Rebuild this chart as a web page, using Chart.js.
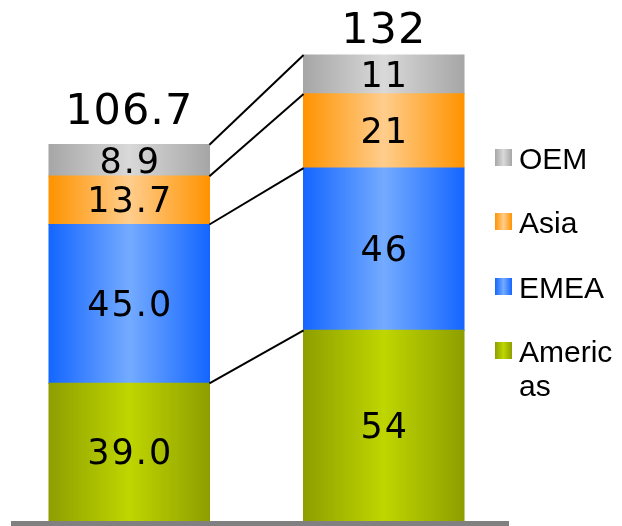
<!DOCTYPE html>
<html>
<head>
<meta charset="utf-8">
<script src="https://cdn.jsdelivr.net/npm/chart.js@4.4.1/dist/chart.umd.min.js"></script>
<style>
  html, body { margin: 0; padding: 0; background: #fff; }
  #wrap { width: 622px; height: 526px; }
</style>
</head>
<body>
<div id="wrap"><canvas id="regionChart" width="622" height="526"></canvas></div>
<script>
// revenue by region, two periods, stacked bottom to top
var periods = ['Prior', 'Current'];
var regions = ['Americas', 'EMEA', 'Asia', 'OEM'];
var americas = [39.0, 54];
var emea = [45.0, 46];
var asia = [13.7, 21];
var oem = [8.9, 11];
var totals = [106.7, 132];
var decimals = [1, 0];

var series = [americas, emea, asia, oem];

// edge / centre colour of each band, same order as series
var shades = [
  ['#8e9e00', '#bfd600'],
  ['#1466ff', '#74abff'],
  ['#ff9300', '#ffcd8c'],
  ['#a6a6a6', '#d9d9d9']
];

var barShare = 0.63;
var totalGap = [21, 12];

function sideGradient(ctx, left, right, pair) {
  var g = ctx.createLinearGradient(left, 0, right, 0);
  g.addColorStop(0, pair[0]);
  g.addColorStop(0.5, pair[1]);
  g.addColorStop(1, pair[0]);
  return g;
}

function barEdges(chart, index) {
  var x = chart.scales.x;
  var half = (x.width / periods.length) * barShare / 2;
  var mid = x.getPixelForValue(index);
  return [mid - half, mid + half];
}

function bandFill(s) {
  return function(context) {
    var chart = context.chart;
    if (!chart.chartArea) return shades[s][0];
    var e = barEdges(chart, context.dataIndex);
    return sideGradient(chart.ctx, e[0], e[1], shades[s]);
  };
}

// break a label by characters when it is wider than the space left
function wrapChars(ctx, text, maxW) {
  var lines = [], cur = '';
  for (var i = 0; i < text.length; i++) {
    if (cur && ctx.measureText(cur + text[i]).width > maxW) {
      lines.push(cur);
      cur = '';
    }
    cur += text[i];
  }
  lines.push(cur);
  return lines;
}

var extrasPlugin = {
  id: 'extras',
  afterDatasetsDraw: function(chart) {
    var ctx = chart.ctx, y = chart.scales.y;
    var a = barEdges(chart, 0), b = barEdges(chart, 1);
    var s0 = 0, s1 = 0, i, j;
    ctx.save();

    // lines joining the band edges of the two bars
    ctx.strokeStyle = '#000';
    ctx.lineWidth = 2;
    for (i = 0; i < series.length; i++) {
      s0 += series[i][0];
      s1 += series[i][1];
      ctx.beginPath();
      ctx.moveTo(a[1], y.getPixelForValue(s0));
      ctx.lineTo(b[0], y.getPixelForValue(s1));
      ctx.stroke();
    }

    // values inside the bands
    ctx.fillStyle = '#000';
    ctx.textAlign = 'center';
    ctx.textBaseline = 'middle';
    ctx.font = '35px "DejaVu Sans"';
    ctx.letterSpacing = '2px';
    for (i = 0; i < series.length; i++) {
      var meta = chart.getDatasetMeta(i);
      for (j = 0; j < meta.data.length; j++) {
        var bar = meta.data[j];
        ctx.fillText(series[i][j].toFixed(decimals[j]), bar.x + 1, (bar.y + bar.base) / 2 + 3);
      }
    }

    // totals above the bars
    ctx.font = '43px "DejaVu Sans"';
    ctx.letterSpacing = '1px';
    ctx.textBaseline = 'alphabetic';
    var topMeta = chart.getDatasetMeta(series.length - 1);
    for (j = 0; j < totals.length; j++) {
      var tb = topMeta.data[j];
      ctx.fillText(totals[j].toFixed(decimals[j]), tb.x, tb.y - totalGap[j]);
    }
    ctx.letterSpacing = '0px';

    // grey base line
    var zero = y.getPixelForValue(0);
    ctx.fillStyle = '#808080';
    ctx.fillRect(11, zero, 498, 5);

    // legend, top entry is the top band
    ctx.font = '30px "Liberation Sans"';
    ctx.textAlign = 'left';
    var top = 149, pitch = 64.3, box = 17, lx = 495, tx = 519;
    for (i = 0; i < regions.length; i++) {
      var s = regions.length - 1 - i;
      var by = Math.round(top + i * pitch);
      ctx.fillStyle = sideGradient(ctx, lx, lx + box, shades[s]);
      ctx.fillRect(lx, by, box, box);
      ctx.fillStyle = '#000';
      var lines = wrapChars(ctx, regions[s], chart.width - tx);
      for (var k = 0; k < lines.length; k++) {
        ctx.fillText(lines[k], tx, by + box / 2 + 11 + k * 34);
      }
    }
    ctx.restore();
  }
};

var datasets = [];
for (var d = 0; d < series.length; d++) {
  datasets.push({
    label: regions[d],
    data: series[d],
    backgroundColor: bandFill(d),
    borderWidth: 0,
    inflateAmount: 0.6,
    barPercentage: 1,
    categoryPercentage: barShare
  });
}

var theChart = new Chart(document.getElementById('regionChart'), {
  type: 'bar',
  data: { labels: periods, datasets: datasets },
  options: {
    responsive: false,
    animation: false,
    layout: { padding: { left: 2, right: 111, top: 0, bottom: 5 } },
    scales: {
      x: { display: false, stacked: true },
      y: { display: false, stacked: true, min: 0, max: 147.6 }
    },
    plugins: { legend: { display: false }, tooltip: { enabled: false } }
  },
  plugins: [extrasPlugin]
});
</script>
</body>
</html>
